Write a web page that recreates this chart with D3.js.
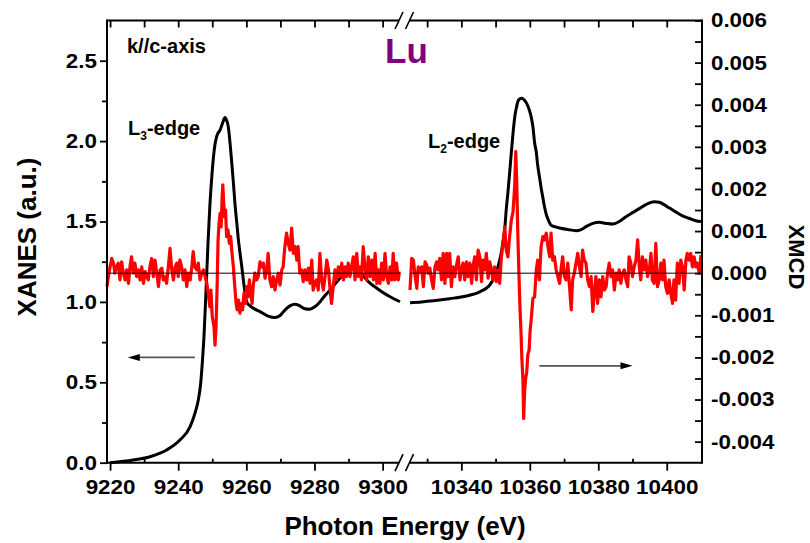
<!DOCTYPE html>
<html>
<head>
<meta charset="utf-8">
<script src="https://cdn.jsdelivr.net/npm/d3@7"></script>
<style>
  body { margin: 0; background: #fff; }
  svg text { font-family: "Liberation Sans", Arial, Helvetica, sans-serif; font-weight: bold; fill: #000; }
</style>
</head>
<body>
<svg id="chart" width="810" height="543"></svg>
<script>
// ---------------- data ----------------
// XANES intensity (a.u.) across the Lu L3 edge: [photon energy (eV), intensity]
const xanesL3 = [
  [9220.0,0.000],[9226.8,0.017],[9231.7,0.037],[9236.6,0.079],[9240.5,0.141],[9243.5,0.224],
  [9244.9,0.307],[9245.9,0.390],[9246.6,0.494],[9247.1,0.630],[9247.6,0.800],[9248.0,0.990],
  [9248.4,1.190],[9248.8,1.390],[9249.3,1.600],[9249.8,1.760],[9250.3,1.890],[9250.8,1.980],
  [9251.3,2.030],[9252.3,2.070],[9253.0,2.110],[9253.7,2.146],[9254.2,2.130],[9254.7,2.090],
  [9255.2,1.990],[9255.7,1.870],[9256.2,1.740],[9256.7,1.600],[9257.2,1.490],[9257.6,1.400],
  [9258.1,1.310],[9258.6,1.230],[9259.1,1.140],[9259.6,1.060],[9260.1,1.000],[9261.1,0.975],
  [9262.5,0.955],[9264.0,0.940],[9266.4,0.912],[9268.4,0.903],[9269.9,0.915],[9270.8,0.937],
  [9272.8,0.975],[9274.3,0.985],[9275.7,0.975],[9277.2,0.958],[9278.7,0.955],[9280.1,0.970],
  [9281.6,1.000],[9283.1,1.040],[9284.6,1.074],[9287.5,1.149],[9289.5,1.200],[9291.0,1.217],
  [9292.5,1.205],[9293.4,1.186],[9295.8,1.126],[9298.3,1.085],[9300.2,1.057],[9302.2,1.032],
  [9305.1,1.001]
];

// XANES intensity (a.u.) across the Lu L2 edge
const xanesL2 = [
  [10325.0,0.995],[10328.4,1.000],[10331.8,1.007],[10336.6,1.020],[10341.5,1.037],[10345.4,1.063],
  [10347.3,1.085],[10348.3,1.105],[10349.7,1.157],[10350.7,1.219],[10351.7,1.310],[10352.2,1.380],
  [10352.7,1.460],[10353.1,1.570],[10353.6,1.680],[10354.1,1.800],[10354.6,1.930],[10355.1,2.050],
  [10355.6,2.150],[10356.1,2.210],[10356.5,2.245],[10357.0,2.262],[10357.6,2.266],[10358.2,2.260],
  [10358.8,2.245],[10359.4,2.220],[10359.9,2.190],[10360.4,2.150],[10360.9,2.090],[10361.4,1.990],
  [10361.9,1.930],[10362.3,1.850],[10362.8,1.780],[10363.3,1.710],[10363.8,1.650],[10364.3,1.590],
  [10364.8,1.545],[10365.3,1.515],[10366.2,1.478],[10367.7,1.465],[10368.7,1.460],[10371.1,1.450],
  [10373.5,1.443],[10375.0,1.450],[10376.4,1.468],[10378.4,1.488],[10380.3,1.495],[10382.3,1.488],
  [10384.2,1.484],[10386.1,1.500],[10388.1,1.530],[10390.0,1.555],[10392.0,1.580],[10393.9,1.605],
  [10396.3,1.623],[10397.8,1.620],[10399.2,1.605],[10400.7,1.585],[10402.6,1.560],[10404.6,1.535],
  [10406.5,1.520],[10408.5,1.505],[10410.0,1.500]
];

// XMCD at the L3 edge: [photon energy (eV), XMCD in units of 1e-3]
const xmcdL3 = [
  [9219.1,-0.32],[9219.5,-0.08],[9220.0,0.15],[9220.5,0.35],[9221.0,0.24],[9221.4,0.00],[9221.9,0.15],
  [9222.4,0.24],[9222.9,-0.16],[9223.4,0.27],[9223.9,0.00],[9224.4,-0.16],[9224.9,0.08],[9225.4,-0.24],
  [9225.9,0.19],[9226.3,0.39],[9226.8,0.00],[9227.3,0.24],[9227.8,-0.08],[9228.3,0.08],[9228.8,-0.16],
  [9229.3,0.15],[9229.8,-0.24],[9230.3,0.04],[9230.8,-0.08],[9231.2,-0.16],[9231.7,0.15],[9232.2,0.35],
  [9232.7,-0.08],[9233.2,0.31],[9233.7,0.00],[9234.2,-0.32],[9234.7,0.08],[9235.2,0.12],[9235.6,-0.16],
  [9236.1,-0.08],[9236.6,-0.24],[9237.1,0.15],[9237.6,0.59],[9238.1,0.08],[9238.6,-0.16],[9239.1,0.15],
  [9239.6,0.24],[9240.0,-0.08],[9240.5,0.31],[9241.0,0.15],[9241.5,-0.16],[9242.0,0.08],[9242.5,-0.32],
  [9243.0,0.00],[9243.5,-0.16],[9244.0,0.15],[9244.4,0.51],[9244.9,0.15],[9245.4,0.08],[9245.9,0.24],
  [9246.4,-0.16],[9246.9,0.00],[9247.4,0.08],[9247.9,-0.08],[9248.4,-0.24],[9248.8,-0.48],[9249.3,-0.80],
  [9249.6,-0.40],[9250.0,-1.03],[9250.5,-1.27],[9250.8,-1.71],[9251.1,-1.27],[9251.4,-0.40],[9251.7,0.79],
  [9252.0,1.19],[9252.3,1.42],[9252.6,1.10],[9252.9,1.82],[9253.1,2.10],[9253.3,1.74],[9253.6,1.34],
  [9253.9,1.50],[9254.2,0.87],[9254.6,1.03],[9255.0,0.71],[9255.4,0.87],[9255.8,0.47],[9256.2,0.15],
  [9256.6,-0.32],[9257.0,-0.72],[9257.3,-0.87],[9257.7,-0.64],[9258.1,-0.95],[9258.5,-0.72],[9258.9,-0.87],
  [9259.3,-0.48],[9259.7,-0.72],[9260.1,-0.32],[9260.5,-0.56],[9260.9,-0.16],[9261.3,-0.48],[9261.7,-0.72],
  [9262.0,-0.32],[9262.5,0.00],[9263.0,-0.16],[9263.5,-0.08],[9264.0,0.27],[9264.5,0.15],[9265.0,0.24],
  [9265.5,-0.12],[9266.0,0.08],[9266.4,0.47],[9266.9,-0.16],[9267.4,-0.32],[9267.9,-0.08],[9268.4,-0.40],
  [9268.9,-0.16],[9269.4,0.00],[9269.9,-0.28],[9270.4,0.08],[9270.8,0.15],[9271.3,0.63],[9271.8,0.95],
  [9272.3,0.71],[9272.8,0.55],[9273.3,1.07],[9273.8,0.47],[9274.3,0.63],[9274.8,0.31],[9275.2,0.63],
  [9275.7,0.00],[9276.2,0.08],[9276.7,-0.20],[9277.2,0.08],[9277.7,-0.16],[9278.2,0.12],[9278.7,-0.24],
  [9279.2,0.31],[9279.6,-0.40],[9280.1,-0.24],[9280.6,-0.16],[9281.1,-0.40],[9281.6,0.47],[9282.1,-0.16],
  [9282.6,-0.40],[9283.1,-0.08],[9283.6,0.31],[9284.1,0.08],[9284.6,-0.40],[9285.0,-0.72],[9285.5,-0.32],
  [9286.0,0.08],[9286.5,-0.16],[9287.0,0.15],[9287.5,-0.08],[9288.0,0.24],[9288.5,-0.16],[9289.0,0.15],
  [9289.4,-0.08],[9289.9,0.24],[9290.4,-0.08],[9290.9,0.15],[9291.4,0.39],[9291.9,-0.16],[9292.4,0.47],
  [9292.9,-0.08],[9293.4,0.15],[9293.8,-0.16],[9294.3,0.63],[9294.8,0.15],[9295.3,-0.16],[9295.8,0.39],
  [9296.3,-0.08],[9296.8,0.31],[9297.3,-0.16],[9297.8,0.47],[9298.3,-0.24],[9298.7,0.08],[9299.2,-0.24],
  [9299.7,0.24],[9300.2,-0.16],[9300.7,0.47],[9301.2,-0.08],[9301.7,-0.24],[9302.2,0.15],[9302.7,-0.16],
  [9303.1,0.47],[9303.6,-0.16],[9304.1,0.24],[9304.6,-0.16],[9304.9,0.04]
];

// XMCD at the L2 edge: [photon energy (eV), XMCD in units of 1e-3]
const xmcdL2 = [
  [10325.0,-0.40],[10325.5,0.35],[10326.0,0.31],[10326.5,-0.08],[10327.0,-0.36],[10327.4,0.15],[10327.9,0.04],
  [10328.4,0.15],[10328.9,-0.32],[10329.4,0.27],[10329.9,0.19],[10330.3,0.00],[10330.8,0.12],[10331.3,-0.16],
  [10331.8,-0.36],[10332.3,0.15],[10332.8,0.27],[10333.2,0.08],[10333.7,0.35],[10334.2,-0.16],[10334.7,0.47],
  [10335.2,-0.24],[10335.7,0.47],[10336.1,-0.08],[10336.6,0.47],[10337.1,-0.32],[10337.6,0.15],[10338.1,-0.08],
  [10338.6,0.19],[10339.1,0.39],[10339.6,-0.16],[10340.0,0.08],[10340.5,0.24],[10341.0,-0.16],[10341.5,0.27],
  [10342.0,-0.08],[10342.5,0.24],[10343.0,-0.24],[10343.4,0.15],[10343.9,0.39],[10344.4,-0.16],[10344.9,0.55],
  [10345.4,0.39],[10345.9,-0.20],[10346.3,0.31],[10346.8,0.08],[10347.3,0.47],[10347.8,-0.12],[10348.3,0.27],
  [10348.8,0.08],[10349.2,-0.16],[10349.7,0.15],[10350.2,-0.20],[10350.7,0.08],[10351.2,-0.24],[10351.7,0.39],
  [10352.2,0.71],[10352.7,1.10],[10353.1,0.55],[10353.6,0.39],[10354.1,0.87],[10354.6,1.26],[10355.1,1.46],
  [10355.6,2.10],[10355.9,2.89],[10356.2,2.10],[10356.5,0.91],[10356.8,0.04],[10357.1,-0.76],[10357.4,-1.35],
  [10357.7,-2.06],[10358.0,-2.54],[10358.2,-3.45],[10358.5,-2.77],[10358.8,-2.49],[10359.1,-2.35],[10359.4,-1.94],
  [10359.8,-1.82],[10360.1,-1.35],[10360.4,-1.11],[10360.9,-0.60],[10361.4,-0.56],[10361.9,0.08],[10362.3,0.31],
  [10362.8,-0.16],[10363.3,0.63],[10363.8,0.87],[10364.3,0.79],[10364.8,0.95],[10365.3,0.63],[10365.8,0.39],
  [10366.2,0.95],[10366.7,0.31],[10367.2,0.39],[10367.7,0.08],[10368.2,-0.08],[10368.7,-0.24],[10369.2,0.15],
  [10369.6,0.39],[10370.1,-0.08],[10370.6,-0.16],[10371.1,0.24],[10371.6,-0.32],[10372.1,-0.87],[10372.5,-0.16],
  [10373.0,0.00],[10373.5,0.24],[10374.0,0.47],[10374.5,0.15],[10375.0,-0.08],[10375.4,0.55],[10375.9,0.31],
  [10376.4,0.24],[10376.9,-0.16],[10377.4,-0.32],[10377.9,-0.08],[10378.4,-0.91],[10378.9,-0.40],[10379.3,-0.08],
  [10379.8,-0.72],[10380.3,-0.16],[10380.8,-0.56],[10381.3,-0.08],[10381.8,-0.40],[10382.3,-0.32],[10382.7,0.00],
  [10383.2,0.24],[10383.7,-0.08],[10384.2,0.08],[10384.7,-0.40],[10385.2,0.00],[10385.6,-0.16],[10386.1,0.08],
  [10386.6,-0.24],[10387.1,0.00],[10387.6,0.08],[10388.1,-0.16],[10388.6,-0.32],[10389.0,0.39],[10389.5,0.24],
  [10390.0,-0.08],[10390.5,0.15],[10391.0,0.31],[10391.5,0.79],[10392.0,0.15],[10392.4,-0.16],[10392.9,0.39],
  [10393.4,0.08],[10393.9,0.31],[10394.4,-0.08],[10394.9,0.08],[10395.4,0.47],[10395.8,-0.16],[10396.3,-0.24],
  [10396.8,0.71],[10397.3,-0.32],[10397.8,-0.16],[10398.3,0.24],[10398.8,-0.16],[10399.2,0.31],[10399.7,-0.32],
  [10400.2,-0.48],[10400.7,-0.16],[10401.2,-0.48],[10401.7,-0.72],[10402.1,-0.16],[10402.6,-0.64],[10403.1,0.24],
  [10403.6,-0.24],[10404.1,0.31],[10404.6,0.15],[10405.1,-0.40],[10405.6,0.31],[10406.0,0.47],[10406.5,0.31],
  [10407.0,0.47],[10407.5,0.15],[10408.0,0.39],[10408.5,0.15],[10408.9,0.24],[10409.5,0.00],[10410.0,0.43]
];

// axis ticks
const energyTicksL3 = [9220, 9240, 9260, 9280, 9300];
const energyMinorL3 = [9230, 9250, 9270, 9290];
const energyTicksL2 = [10340, 10360, 10380, 10400];
const energyMinorL2 = [10330, 10350, 10370, 10390];
const xanesTicks = [0.0, 0.5, 1.0, 1.5, 2.0, 2.5];
const xanesMinor = [0.25, 0.75, 1.25, 1.75, 2.25];
const xmcdTicks = [-0.004, -0.003, -0.002, -0.001, 0.000, 0.001, 0.002, 0.003, 0.004, 0.005, 0.006];
const xmcdMinor = [-0.0035, -0.0025, -0.0015, -0.0005, 0.0005, 0.0015, 0.0025, 0.0035, 0.0045, 0.0055];

const XMCD_UNIT = 1e-3;

// ---------------- layout ----------------
const FONT = '"Liberation Sans", Arial, Helvetica, sans-serif';
const box = { left: 107, right: 702, top: 20.5, bottom: 462.7, breakL: 400, breakR: 410 };

const svg = d3.select('#chart');

// broken energy axis: two linear pieces sharing the same eV-per-pixel scale
const xL3 = d3.scaleLinear().domain([9219.1, 9305.1]).range([box.left, box.breakL]);
const xL2 = d3.scaleLinear().domain([10325.0, 10410.3]).range([box.breakR, box.right]);
const yXanes = d3.scaleLinear().domain([0, 2.75]).range([box.bottom, box.top]);
const yXmcd = d3.scaleLinear().domain([-0.0045, 0.006]).range([box.bottom, box.top]);

// ---------------- curves ----------------
const xanesPath = x => d3.line()
  .x(d => x(d[0])).y(d => yXanes(d[1]))
  .curve(d3.curveMonotoneX);
const xmcdPath = x => d3.line()
  .x(d => x(d[0])).y(d => yXmcd(d[1] * XMCD_UNIT));

const curves = svg.append('g');
[[xanesL3, xL3], [xanesL2, xL2]].forEach(([data, x]) => {
  curves.append('path').datum(data)
    .attr('d', xanesPath(x))
    .attr('fill', 'none').attr('stroke', '#000').attr('stroke-width', 3)
    .attr('stroke-linejoin', 'round');
});
[[xmcdL3, xL3], [xmcdL2, xL2]].forEach(([data, x]) => {
  curves.append('path').datum(data)
    .attr('d', xmcdPath(x))
    .attr('fill', 'none').attr('stroke', '#ff0000').attr('stroke-width', 3.2)
    .attr('stroke-linejoin', 'round');
});

// XMCD zero reference, one piece per axis segment
[xL3, xL2].forEach(x => {
  const [x0, x1] = x.range();
  curves.append('line')
    .attr('x1', x0).attr('x2', x1)
    .attr('y1', yXmcd(0)).attr('y2', yXmcd(0))
    .attr('stroke', '#000').attr('stroke-width', 1);
});

// ---------------- frame with axis break ----------------
const frame = svg.append('g').attr('stroke', '#000').attr('stroke-width', 2).attr('fill', 'none');
const cut1 = 399, cut2 = 409.5;
frame.append('line').attr('x1', box.left).attr('x2', box.left).attr('y1', box.top - 1).attr('y2', box.bottom + 1);
frame.append('line').attr('x1', box.right).attr('x2', box.right).attr('y1', box.top - 1).attr('y2', box.bottom + 1);
[box.top, box.bottom].forEach(y => {
  frame.append('line').attr('x1', box.left).attr('x2', cut1).attr('y1', y).attr('y2', y);
  frame.append('line').attr('x1', cut2).attr('x2', box.right).attr('y1', y).attr('y2', y);
  [cut1, cut2].forEach(cx => {
    frame.append('line')
      .attr('x1', cx - 4).attr('y1', y + 8.5)
      .attr('x2', cx + 4).attr('y2', y - 8.5)
      .attr('stroke-width', 1.6);
  });
});

// ---------------- axes ----------------
const LABEL_STRETCH = 1.12;
function styleAxis(g, withLabels) {
  g.select('.domain').remove();
  g.selectAll('.tick line').attr('stroke', '#000').attr('stroke-width', 1.8);
  g.selectAll('.tick text')
    .style('font-family', FONT).style('font-weight', 'bold').style('font-size', '20px')
    .attr('fill', '#000')
    .attr('transform', withLabels ? `scale(${LABEL_STRETCH},1)` : null);
}
function addAxis(axis, tx, ty, withLabels) {
  svg.append('g').attr('transform', `translate(${tx},${ty})`)
    .call(axis).call(g => styleAxis(g, withLabels));
}

// bottom: labelled major ticks point outward, minor ticks point inward
[[xL3, energyTicksL3, energyMinorL3], [xL2, energyTicksL2, energyMinorL2]].forEach(([x, major, minor]) => {
  addAxis(d3.axisBottom(x).tickValues(major).tickSizeInner(8).tickSizeOuter(0)
    .tickPadding(9).tickFormat(d3.format('d')), 0, box.bottom, true);
  addAxis(d3.axisBottom(x).tickValues(minor).tickSizeInner(-4).tickSizeOuter(0)
    .tickFormat(''), 0, box.bottom, false);
  // top: all ticks inward, no labels
  addAxis(d3.axisTop(x).tickValues(major.concat(minor)).tickSizeInner(-7).tickSizeOuter(0)
    .tickFormat(''), 0, box.top, false);
});

// left XANES axis (ticks outward)
addAxis(d3.axisLeft(yXanes).tickValues(xanesTicks).tickSizeInner(7).tickSizeOuter(0)
  .tickPadding(2).tickFormat(d => d.toFixed(1)), box.left, 0, true);
addAxis(d3.axisLeft(yXanes).tickValues(xanesMinor).tickSizeInner(5).tickSizeOuter(0)
  .tickFormat(''), box.left, 0, false);

// right XMCD axis (ticks inward)
addAxis(d3.axisRight(yXmcd).tickValues(xmcdTicks).tickSizeInner(-7).tickSizeOuter(0)
  .tickPadding(8).tickFormat(d => d.toFixed(3)), box.right, 0, true);
addAxis(d3.axisRight(yXmcd).tickValues(xmcdMinor).tickSizeInner(-7).tickSizeOuter(0)
  .tickFormat(''), box.right, 0, false);

// ---------------- titles ----------------
svg.append('text')
  .attr('x', 405).attr('y', 535).attr('text-anchor', 'middle')
  .style('font-size', '26px')
  .text('Photon Energy (eV)');

svg.append('text')
  .attr('transform', 'translate(36,237) rotate(-90)')
  .attr('text-anchor', 'middle')
  .style('font-size', '26px')
  .text('XANES (a.u.)');

svg.append('text')
  .attr('transform', 'translate(789,257) rotate(90)')
  .attr('text-anchor', 'middle')
  .style('font-size', '22px')
  .text('XMCD');

// ---------------- annotations ----------------
svg.append('text').attr('x', 127).attr('y', 53).style('font-size', '20px').text('k//c-axis');

svg.append('text').attr('x', 385).attr('y', 63)
  .style('font-size', '35px').style('fill', '#800080').text('Lu');

function edgeLabel(x, y, sub) {
  const t = svg.append('text').attr('x', x).attr('y', y).style('font-size', '20px');
  t.append('tspan').text('L');
  t.append('tspan').attr('dy', 5).style('font-size', '12px').text(sub);
  t.append('tspan').attr('dy', -5).text('-edge');
}
edgeLabel(128, 135, '3');
edgeLabel(428, 148, '2');

// arrows pointing to the axis each curve belongs to
function arrow(x, e0, e1, y, v) {
  const x0 = x(e0), x1 = x(e1), yy = y(v);
  const dir = Math.sign(x1 - x0);
  svg.append('line').attr('x1', x0).attr('x2', x1 - dir * 8).attr('y1', yy).attr('y2', yy)
    .attr('stroke', '#555').attr('stroke-width', 1.6);
  svg.append('path')
    .attr('d', `M${x1},${yy} L${x1 - dir * 12},${yy - 3.5} L${x1 - dir * 12},${yy + 3.5} Z`)
    .attr('fill', '#000');
}
arrow(xL3, 9244.9, 9225.2, yXanes, 0.655);
arrow(xL2, 10362.8, 10390.0, yXmcd, -0.0022);
</script>
</body>
</html>
